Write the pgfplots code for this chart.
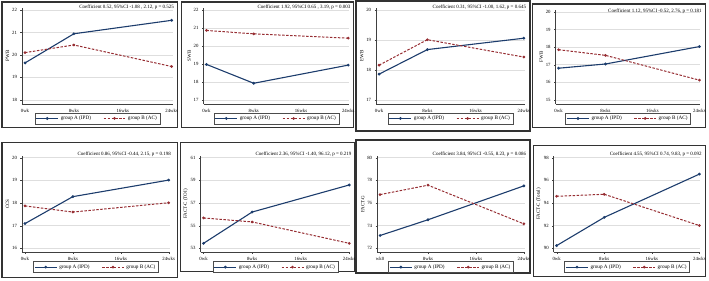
\documentclass[border=0pt]{standalone}
\usepackage{pgfplots}
\pgfplotsset{compat=1.18}
\usepackage{fontspec}
\setmainfont{Liberation Serif}
\definecolor{navyA}{RGB}{28,60,108}
\definecolor{maroonB}{RGB}{150,45,50}
\tikzset{coef/.style={anchor=east, font=\fontsize{5}{6}\selectfont, inner sep=0pt, yshift=1pt}}
\pgfplotsset{
 panel/.style={
  scale only axis, anchor=north west, clip=false,
  axis x line*=bottom, axis y line*=left,
  xmin=-0.5, xmax=24.15,
  xtick={0,8,16,24}, xticklabels={0wk,8wks,16wks,24wks},
  ymajorgrids, grid style={black!13, line width=0.4pt},
  tick align=outside, major tick length=1.5pt,
  axis line style={black!75, line width=0.4pt},
  tick style={black!75},
  /pgf/number format/assume math mode=true,
  tick label style={font=\fontsize{4.8}{5}\selectfont},
  ylabel style={font=\fontsize{5}{6}\selectfont, yshift=-4pt},
  legend columns=2,
  legend style={at={(0.5,0)}, anchor=north, yshift=-9pt, draw=black!70, line width=0.4pt,
    font=\fontsize{5.2}{6}\selectfont, inner sep=1pt,
    /tikz/every even column/.append style={column sep=10pt}},
  legend image code/.code={\draw[##1, mark repeat=2, mark phase=2] plot coordinates {(0pt,0pt)(11pt,0pt)(22pt,0pt)};},
 },
 gA/.style={navyA, line width=1.1pt, mark=*, mark size=0.8pt, mark options={solid}},
 gB/.style={maroonB, line width=1.0pt, dash pattern=on 2.5pt off 1.5pt, mark=*, mark size=0.8pt, mark options={solid}},
}
\begin{document}
\begin{tikzpicture}
\path (0,0) rectangle (709pt,281pt);
% frames
\draw[line width=1.2pt, black!80] (2pt,279pt) rectangle (178pt,153pt);
\draw[line width=1.2pt, black!80] (182pt,279pt) rectangle (354pt,153pt);
\draw[line width=1.8pt, black!80] (357pt,280pt) rectangle (531pt,150pt);
\draw[line width=1.2pt, black!80] (534pt,277pt) rectangle (707pt,153pt);
\draw[line width=1.2pt, black!80] (2pt,138pt) rectangle (178pt,3pt);
\draw[line width=1.2pt, black!80] (181pt,138pt) rectangle (355pt,9pt);
\draw[line width=1.8pt, black!80] (357pt,141pt) rectangle (531pt,7pt);
\draw[line width=1.2pt, black!80] (535pt,135pt) rectangle (707pt,4pt);

% P1 PWB
\begin{axis}[panel, at={(22pt,273pt)}, width=151pt, height=96pt,
  ymin=17.82, ymax=22.09, ytick={18,19,20,21,22}, ylabel={PWB}]
\addplot[gA] coordinates {(0,19.64) (8,20.94) (24,21.54)};
\addplot[gB] coordinates {(0,20.10) (8,20.44) (24,19.48)};
\legend{group A (IPD), group B (AC)}
\node[coef] at (rel axis cs:1.01,1) {Coefficient 0.52, 95\%CI -1.08 , 2.12, p = 0.525};
\end{axis}

% P2 SWB
\begin{axis}[panel, at={(204pt,273pt)}, width=146pt, height=96pt,
  ymin=16.78, ymax=22.11, ytick={17,18,19,20,21,22}, ylabel={SWB}]
\addplot[gA] coordinates {(0,18.97) (8,17.92) (24,18.93)};
\addplot[gB] coordinates {(0,20.86) (8,20.67) (24,20.43)};
\legend{group A (IPD), group B (AC)}
\node[coef] at (rel axis cs:1.01,1) {Coefficient 1.92, 95\%CI 0.65 , 3.19, p = 0.003};
\end{axis}

% P3 EWB
\begin{axis}[panel, at={(377pt,273pt)}, width=149pt, height=96pt,
  ymin=16.87, ymax=20.07, ytick={17,18,19,20}, ylabel={EWB}]
\addplot[gA] coordinates {(0,17.86) (8,18.68) (24,19.06)};
\addplot[gB] coordinates {(0,18.16) (8,19.01) (24,18.43)};
\legend{group A (IPD), group B (AC)}
\node[coef] at (rel axis cs:1.01,1) {Coefficient 0.31, 95\%CI -1.00, 1.62, p = 0.645};
\end{axis}

% P4 FWB
\begin{axis}[panel, at={(557pt,271pt)}, width=145pt, height=94pt,
  ymin=14.78, ymax=20.11, ytick={15,16,17,18,19,20}, ylabel={FWB}]
\addplot[gA] coordinates {(0,16.80) (8,17.04) (24,18.03)};
\addplot[gB] coordinates {(0,17.85) (8,17.53) (24,16.12)};
\legend{group A (IPD), group B (AC)}
\node[coef, yshift=-2pt] at (rel axis cs:1.01,1) {Coefficient 1.12, 95\%CI -0.52, 2.76, p = 0.181};
\end{axis}

% P5 CCS
\begin{axis}[panel, at={(22pt,125pt)}, width=148pt, height=97pt,
  ymin=15.82, ymax=20.09, ytick={16,17,18,19,20}, ylabel={CCS}]
\addplot[gA] coordinates {(0,17.09) (8,18.28) (24,19.01)};
\addplot[gB] coordinates {(0,17.87) (8,17.60) (24,18.01)};
\legend{group A (IPD), group B (AC)}
\node[coef] at (rel axis cs:1.01,1) {Coefficient 0.86, 95\%CI -0.44, 2.15, p = 0.198};
\end{axis}

% P6 FACT-C (TOI)
\begin{axis}[panel, at={(201pt,125pt)}, width=150pt, height=97pt,
  ymin=52.64, ymax=61.18, ytick={53,55,57,59,61}, ylabel={FACT-C (TOI)}]
\addplot[gA] coordinates {(0,53.44) (8,56.20) (24,58.59)};
\addplot[gB] coordinates {(0,55.68) (8,55.33) (24,53.44)};
\legend{group A (IPD), group B (AC)}
\node[coef] at (rel axis cs:1.01,1) {Coefficient 2.36, 95\%CI -1.40, 96.12, p = 0.219};
\end{axis}

% P7 FACT-G
\begin{axis}[panel, at={(378pt,125pt)}, width=148pt, height=97pt,
  ymin=71.64, ymax=80.18, ytick={72,74,76,78,80}, ylabel={FACT-G},
  xticklabels={wk0,8wks,16wks,24wks}]
\addplot[gA] coordinates {(0,73.13) (8,74.52) (24,77.51)};
\addplot[gB] coordinates {(0,76.74) (8,77.57) (24,74.16)};
\legend{group A (IPD), group B (AC)}
\node[coef] at (rel axis cs:1.01,1) {Coefficient 3.84, 95\%CI -0.55, 8.23, p = 0.086};
\end{axis}

% P8 FACT-C (Total)
\begin{axis}[panel, at={(555pt,125pt)}, width=147pt, height=97pt,
  ymin=89.64, ymax=98.18, ytick={90,92,94,96,98}, ylabel={FACT-C (Total)}]
\addplot[gA] coordinates {(0,90.24) (8,92.73) (24,96.55)};
\addplot[gB] coordinates {(0,94.59) (8,94.77) (24,92.01)};
\legend{group A (IPD), group B (AC)}
\node[coef] at (rel axis cs:1.01,1) {Coefficient 4.55, 95\%CI 0.74, 9.83, p = 0.092};
\end{axis}
\end{tikzpicture}
\end{document}
